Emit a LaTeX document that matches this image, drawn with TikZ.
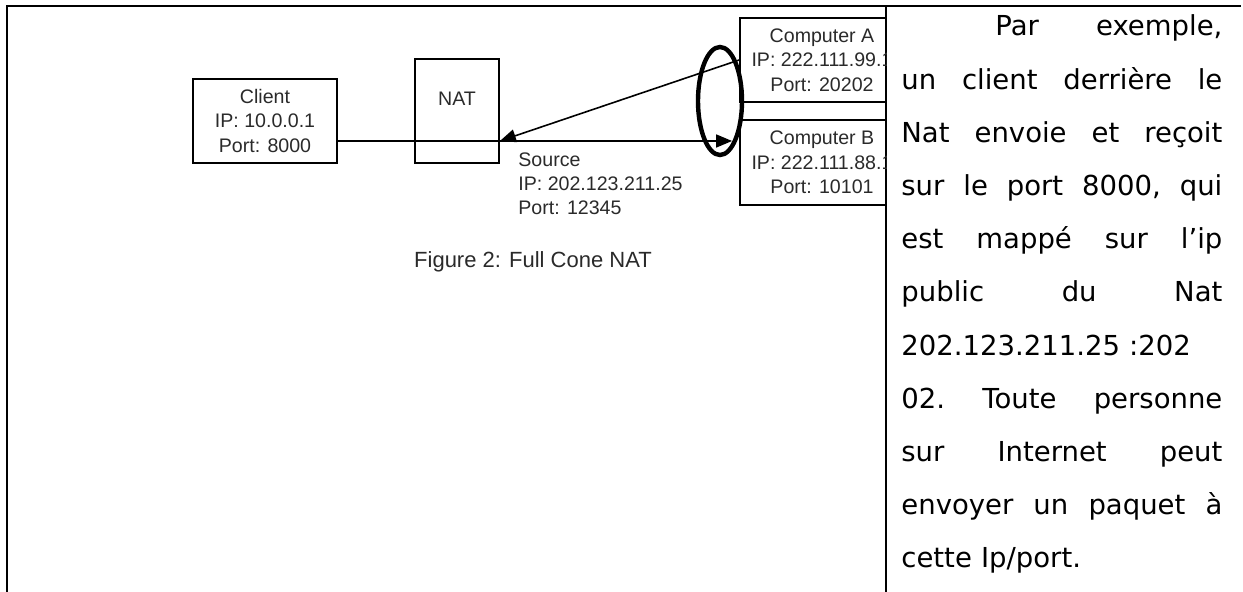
\documentclass[tikz,border=0pt]{standalone}
\usepackage{fontspec}
\setmainfont{Liberation Sans}
\newfontfamily\notefont{DejaVu Sans}
\usetikzlibrary{
  arrows.meta,
  positioning,
  shapes.geometric
}
\definecolor{scangray}{HTML}{2A2A2A}
\newcommand{\justline}[2][160.5pt]{\leavevmode\hbox to #1{#2}}

\begin{document}
\begin{tikzpicture}[
  x=0.5pt, y=-0.5pt,
  box/.style={draw=black, line width=0.9pt, minimum width=72pt, minimum height=42pt,
    inner sep=0pt, align=center, text=scangray, font=\fontsize{9.8}{12.2}\selectfont},
  tag/.style={text=scangray, inner sep=0pt, font=\fontsize{9.8}{12}\selectfont},
  arrow/.style={-{Triangle[length=8pt, width=6.5pt]}, line width=0.8pt},
  ring/.style={draw, ellipse, line width=2.2pt, minimum width=22pt, minimum height=54pt,
    inner sep=0pt},
  caption/.style={text=scangray, font=\fontsize{11}{13}\selectfont},
  note/.style={text width=160.5pt, align=left, inner sep=0pt,
    font=\notefont\fontsize{13.75}{26.6}\selectfont}
]
  \useasboundingbox (0,0) rectangle (1243,592);

  % --- Frame ---
  \draw[line width=1pt] (7,592) -- (7,6) -- (1241,6);
  \draw[line width=1pt] (886,6) -- (886,592);

  \begin{scope}
    \clip (7,6) rectangle (886,592);

    % --- Hosts ---
    \node[box] (client) at (265,121) {Client\\IP: 10.0.0.1\\Port: 8000};
    \node[box, minimum width=42pt, minimum height=52pt,
      label={[tag, anchor=center, yshift=-20.5pt]north:NAT}] (nat) at (457,111) {};
    \node[box, minimum width=82pt] (compa) at (822,60) {Computer A\\IP: 222.111.99.1\\Port: 20202};
    \node[box, minimum width=82pt, minimum height=42.5pt, below=8pt of compa] (compb)
      {Computer B\\IP: 222.111.88.1\\Port: 10101};

    % --- Mapping ---
    \coordinate (wire) at (0,141);
    \node[tag, anchor=west, align=left] (source) at (518,184)
      {Source\\IP: 202.123.211.25\\Port: 12345};
    \node[ring] (peers) at (720,101) {};

    % --- Arrows ---
    \draw[line width=0.8pt] (client.east |- wire) -- (nat.east |- wire);
    \draw[arrow, shorten >=3.5pt] (nat.east |- wire) -- (compb.west |- wire);
    \draw[arrow] (compa.west) -- (nat.east |- wire);

    \node[caption] (fig) at (533,262) {Figure 2: Full Cone NAT};
  \end{scope}

  % --- Text column ---
  \node[note, anchor=base west] (para) at (901,36) {%
    \hspace*{47pt}\justline[113.5pt]{Par\hfill exemple,}\\
    \justline{un\hfill client\hfill derrière\hfill le}\\
    \justline{Nat\hfill envoie\hfill et\hfill reçoit}\\
    \justline{sur\hfill le\hfill port\hfill 8000,\hfill qui}\\
    \justline{est\hfill mappé\hfill sur\hfill l’ip}\\
    \justline{public\hfill du\hfill Nat}\\
    202.123.211.25 :202\\
    \justline{02.\hfill Toute\hfill personne}\\
    \justline{sur\hfill Internet\hfill peut}\\
    \justline{envoyer\hfill un\hfill paquet\hfill à}\\
    cette Ip/port.};
\end{tikzpicture}
\end{document}
